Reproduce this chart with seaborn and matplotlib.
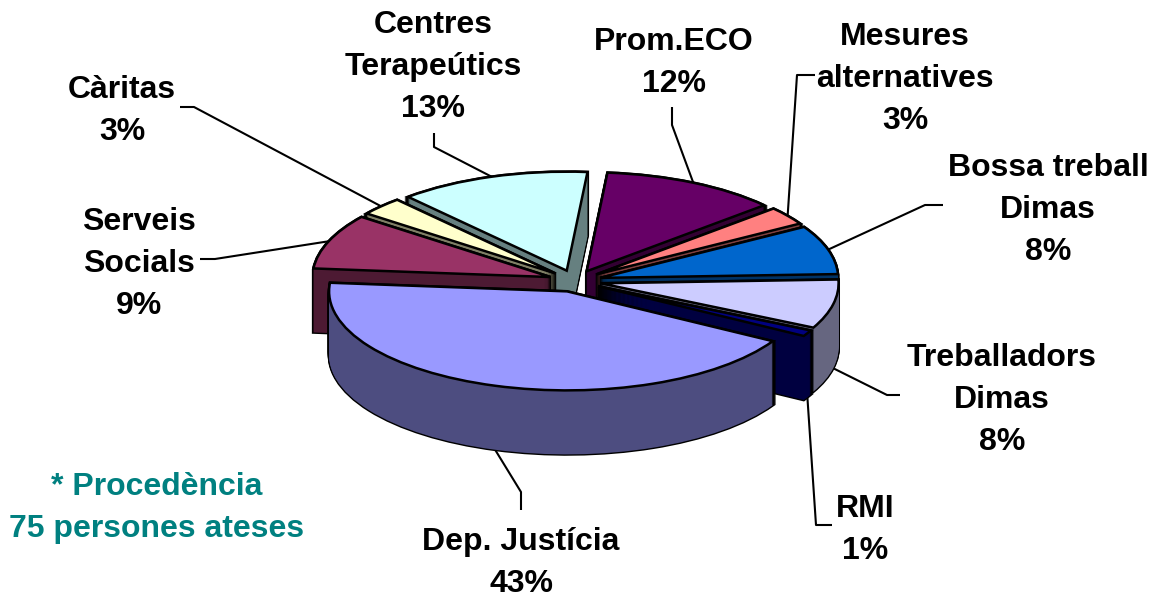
"""Exploded 3D-style pie of where the 75 attended people came from."""

import matplotlib

matplotlib.use("Agg")

import matplotlib.pyplot as plt
import numpy as np
import seaborn as sns
from matplotlib.colors import to_rgb

# clockwise from the top
LABELS = [
    "Prom.ECO",
    "Mesures\nalternatives",
    "Bossa treball\nDimas",
    "Treballadors\nDimas",
    "RMI",
    "Dep. Justícia",
    "Serveis\nSocials",
    "Càritas",
    "Centres\nTerapeútics",
]
PERCENTS = [12, 3, 8, 8, 1, 43, 9, 3, 13]
COLORS = [
    "#660066",
    "#FF8080",
    "#0066CC",
    "#CCCCFF",
    "#000080",
    "#9999FF",
    "#993366",
    "#FFFFCC",
    "#CCFFFF",
]
NOTE_LINES = ["* Procedència", "75 persones ateses"]

# layout, in pixels of the 1160x598 picture
WIDTH, HEIGHT = 1160, 598
CENTER_X, CENTER_Y = 575, 281
RADIUS_X, RADIUS_Y = 238, 99
DEPTH_PX = 64
EXPLODE = 0.11
START_ANGLE = 85
LABEL_POS = [
    (674, 63),
    (905, 79),
    (1048, 210),
    (1002, 400),
    (865, 530),
    (521, 563),
    (139, 264),
    (122, 111),
    (433, 67),
]
LEADERS = [
    [(672, 107), (672, 125)],
    [(815, 75), (797, 75)],
    [(943, 205), (925, 205)],
    [(900, 395), (887, 395)],
    [(832, 525), (816, 525)],
    [(521, 510), (521, 492)],
    [(200, 259), (215, 259)],
    [(180, 107), (194, 107)],
    [(434, 133), (434, 147)],
]


def to_data(x_px, y_px):
    return (x_px - CENTER_X) / RADIUS_X, (CENTER_Y - y_px) / RADIUS_Y


def draw_layer(ax, colors, offset, edge, lw, base_z, ranks):
    wedges, _ = ax.pie(
        PERCENTS,
        explode=[EXPLODE] * len(PERCENTS),
        colors=colors,
        startangle=START_ANGLE,
        counterclock=False,
        center=(0, -offset),
        radius=1,
        wedgeprops={"edgecolor": edge, "linewidth": lw},
    )
    for wedge, rank in zip(wedges, ranks):
        wedge.set_zorder(rank + base_z)
    return wedges


def main():
    sns.set_theme(style="white")
    plt.rcParams["font.family"] = ["Liberation Sans", "DejaVu Sans"]

    fig = plt.figure(figsize=(WIDTH / 100, HEIGHT / 100), dpi=100)
    ax = fig.add_axes([0, 0, 1, 1])

    values = np.array(PERCENTS, dtype=float)
    ends = START_ANGLE - np.cumsum(values) / values.sum() * 360
    mids = np.radians(ends + values / values.sum() * 180)

    # painter's order: slices at the back first
    order = np.argsort(-np.sin(mids))
    ranks = np.empty(len(order))
    ranks[order] = np.arange(len(order)) + 2

    walls = [tuple(c / 2 for c in to_rgb(col)) for col in COLORS]
    depth = DEPTH_PX / RADIUS_Y
    steps = np.linspace(depth, 0, DEPTH_PX + 1)

    for offset in steps:
        draw_layer(ax, ["black"] * len(COLORS), offset, "black", 2.0, 0.1, ranks)
    for offset in steps:
        draw_layer(ax, walls, offset, "none", 0, 0.2, ranks)
    draw_layer(ax, COLORS, 0, "black", 1.8, 0.3, ranks)

    for i, (label, pct) in enumerate(zip(LABELS, PERCENTS)):
        x, y = to_data(*LABEL_POS[i])
        ax.text(
            x, y, f"{label}\n{pct}%",
            ha="center", va="center", ma="center",
            fontsize=23, fontweight="bold", color="black",
            linespacing=1.54, zorder=20,
        )

        # leader runs from the label elbow to the rim of the slice
        cos_m, sin_m = np.cos(mids[i]), np.sin(mids[i])
        rim_x = (1 + EXPLODE) * cos_m
        rim_y = (1 + EXPLODE) * sin_m - (depth if sin_m < 0 else 0)
        points = [to_data(*p) for p in LEADERS[i]] + [(rim_x, rim_y)]
        xs, ys = zip(*points)
        ax.plot(xs, ys, color="black", lw=1.5, zorder=1, solid_capstyle="butt")

    for line, y_px in zip(NOTE_LINES, (487, 529)):
        x, y = to_data(157, y_px)
        ax.text(
            x, y, line, ha="center", va="center",
            fontsize=23, fontweight="bold", color="#008080",
        )

    ax.set_aspect("auto")
    ax.set_xlim(to_data(0, 0)[0], to_data(WIDTH, 0)[0])
    ax.set_ylim(to_data(0, HEIGHT)[1], to_data(0, 0)[1])
    ax.axis("off")

    fig.savefig("out.png", dpi=100, facecolor="white")
    plt.close(fig)


if __name__ == "__main__":
    main()
